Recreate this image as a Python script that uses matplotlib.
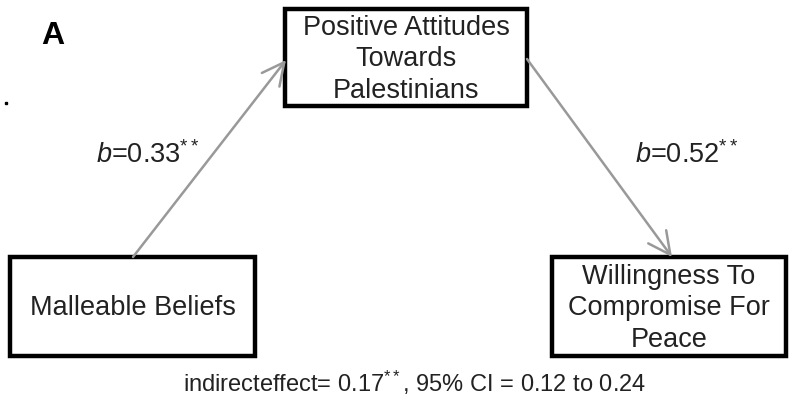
import matplotlib
matplotlib.use("Agg")
import matplotlib.pyplot as plt
from matplotlib.patches import Rectangle, FancyArrowPatch

plt.rcParams['font.family'] = ['Liberation Sans', 'DejaVu Sans']
plt.rcParams['mathtext.fontset'] = 'custom'
plt.rcParams['mathtext.rm'] = 'Liberation Sans'
plt.rcParams['mathtext.it'] = 'Liberation Sans:italic'

# data
node_names = ["Malleable Beliefs",
              "Positive Attitudes\nTowards\nPalestinians",
              "Willingness To\nCompromise For\nPeace"]
path_b = [0.33, 0.52]
path_sig = ["**", "**"]
indirect = 0.17
indirect_sig = "**"
ci_low, ci_high = 0.12, 0.24
panel = "A"

# layout in pixel coords (x0, y0, x1, y1)
boxes = [(10, 258, 255, 357), (285, 10, 527, 107), (552, 258, 786, 357)]

fig = plt.figure(figsize=(7.9, 4.02), dpi=100)
ax = fig.add_axes([0, 0, 1, 1])
ax.set_xlim(0, 790)
ax.set_ylim(402, 0)
ax.axis('off')

for (x0, y0, x1, y1), name in zip(boxes, node_names):
    ax.add_patch(Rectangle((x0, y0), x1 - x0, y1 - y0, fill=False,
                           edgecolor='black', linewidth=3.2, joinstyle='miter'))
    ax.text((x0 + x1) / 2, (y0 + y1) / 2 + 1, name, ha='center', va='center',
            fontsize=19.5, color='#222222', linespacing=1.28)

# arrows: X -> M, M -> Y
arrow_pts = [((133, 258), (286, 61)), ((527, 60), (672, 258))]
for (p0, p1) in arrow_pts:
    ax.add_patch(FancyArrowPatch(p0, p1, arrowstyle='->,head_length=8,head_width=4',
                                 color='#999999', linewidth=1.8,
                                 shrinkA=0, shrinkB=0, mutation_scale=2))

label_pos = [(148, 155), (687, 155)]
for (x, y), b, s in zip(label_pos, path_b, path_sig):
    ax.text(x, y, r"$\it{b}$" + f"={b:.2f}" + r"$^{" + s + "}$",
            ha='center', va='center', fontsize=19.5, color='#222222')

ax.text(415, 383,
        f"indirecteffect= {indirect:.2f}" + r"$^{" + indirect_sig + "}$"
        + f", 95% CI = {ci_low:.2f} to {ci_high:.2f}",
        ha='center', va='center', fontsize=17, color='#222222')

ax.text(53, 36, panel, ha='center', va='center', fontsize=23,
        fontweight='bold', color='black')
ax.plot([6], [104], marker='s', markersize=1.5, color='black')

fig.savefig("out.png", dpi=100)
